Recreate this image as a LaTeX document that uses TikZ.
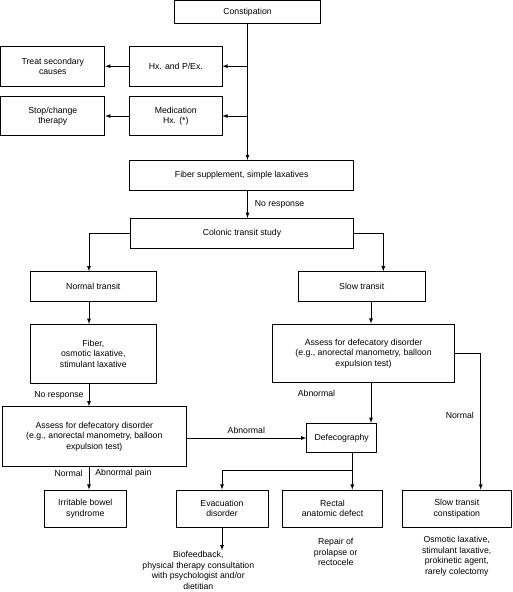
\documentclass[tikz,border=0pt]{standalone}
\usepackage{fontspec}
\setmainfont{Liberation Sans}
\usetikzlibrary{arrows}

\tikzset{
  box/.style={draw, line width=0.8pt, align=center, inner sep=0pt},
  lbl/.style={inner sep=1pt, align=center},
}

\begin{document}
\begin{tikzpicture}[x=1pt, y=-1pt, >=latex, line width=0.8pt,
    font={\fontsize{8.7}{10.5}\selectfont}]
    \useasboundingbox (0,0) rectangle (512,592);

    % lanes for the vertical connectors
    \coordinate (leftlane) at (89,0);
    \coordinate (rightlane) at (371,0);
    \coordinate (slowlane) at (383.3,0);
    \coordinate (farlane) at (480.7,0);
    \coordinate (junc) at (352.3,470);

    \node (constip) [box, minimum width=146, minimum height=23] at (247.5,12.2) {Constipation};
    \node (treat) [box, minimum width=104, minimum height=39.7] at (52.8,66.2) {Treat secondary\\causes};
    \node (hx) [box, minimum width=92.3, minimum height=39.7] at (175.8,66.2) {Hx. and P/Ex.};
    \node (stop) [box, minimum width=104, minimum height=38.6] at (52.8,116) {Stop/change\\therapy};
    \node (med) [box, minimum width=92.3, minimum height=38.6] at (175.8,116) {Medication\\Hx. (*)};
    \node (fiber) [box, minimum width=224, minimum height=29.7] at (241.7,175.2) {Fiber supplement, simple laxatives};
    \node (colonic) [box, minimum width=222.6, minimum height=30] at (242,233.3) {Colonic transit study};
    \node (normal) [box, minimum width=126.7, minimum height=30] at (93.3,286.7) {Normal transit};
    \node (slow) [box, minimum width=126.7, minimum height=30] at (361.7,286.7) {Slow transit};
    \node (fibosm) [box, minimum width=126.7, minimum height=59] at (93.3,353.8) {Fiber,\\osmotic laxative,\\stimulant laxative};
    \node (assessr) [box, minimum width=181.6, minimum height=58.7] at (363.5,353.3) {Assess for defecatory disorder\\(e.g., anorectal manometry, balloon\\expulsion test)};
    \node (assessl) [box, minimum width=183.3, minimum height=59.3] at (94.3,436.3) {Assess for defecatory disorder\\(e.g., anorectal manometry, balloon\\expulsion test)};
    \node (defeco) [box, minimum width=70, minimum height=29.4] at (341.7,438) {Defecography};
    \node (ibs) [box, minimum width=82, minimum height=37] at (85.3,508.5) {Irritable bowel\\syndrome};
    \node (evac) [box, minimum width=92, minimum height=37] at (222,508.5) {Evacuation\\disorder};
    \node (rectal) [box, minimum width=100.4, minimum height=37] at (332.5,508.5) {Rectal\\anatomic defect};
    \node (stc) [box, minimum width=108.3, minimum height=37] at (456.8,508.5) {Slow transit\\constipation};

    \node (bio) [lbl] at (198.3,570.6) {Biofeedback,\\physical therapy consultation\\with psychologist and/or\\dietitian};
    \node (repair) [lbl] at (335.7,552.3) {Repair of\\prolapse or\\rectocele};
    \node (osm) [lbl] at (456.7,556) {Osmotic laxative,\\stimulant laxative,\\prokinetic agent,\\rarely colectomy};

    \path [->] (constip.south) edge (constip.south |- fiber.north);
    \path [->] (constip.south |- hx.east) edge (hx.east);
    \path [->] (constip.south |- med.east) edge (med.east);
    \path [->] (hx) edge (treat);
    \path [->] (med) edge (stop);
    \path [->] (fiber.south -| constip.south) edge node[lbl, right=6pt] {No response} (colonic.north -| constip.south);

    \draw [->] (colonic.west) -| (normal.north -| leftlane);
    \draw [->] (colonic.east) -| (slow.north -| slowlane);
    \path [->] (normal.south -| leftlane) edge (fibosm.north -| leftlane);
    \path [->] (slow.south -| rightlane) edge (assessr.north -| rightlane);
    \path [->] (fibosm.south -| leftlane) edge node[lbl, left=4pt] {No response} (assessl.north -| leftlane);
    \draw [->] (assessr.east) -| (stc.north -| farlane);
    \path [->] (assessl.east |- defeco.west) edge node[lbl, above=3pt] {Abnormal} (defeco.west);
    \path [->] (assessr.south -| rightlane) edge (defeco.north -| rightlane);
    \path [->] (assessl.south -| leftlane) edge (ibs.north -| leftlane);
    \draw [->] (defeco.south -| junc) -- (junc) -| (evac.north);
    \path [->] (junc) edge (rectal.north -| junc);
    \path [->] (evac.south) edge (evac.south |- bio.north);

    % labels off the connectors
    \node (abnr) [lbl] at (316.5,393.3) {Abnormal};
    \node (normr) [lbl] at (459.8,415) {Normal};
    \node (norml) [lbl, anchor=east] at (84,473.3) {Normal};
    \node (abpain) [lbl, anchor=west] at (94,473.3) {Abnormal pain};
\end{tikzpicture}
\end{document}
